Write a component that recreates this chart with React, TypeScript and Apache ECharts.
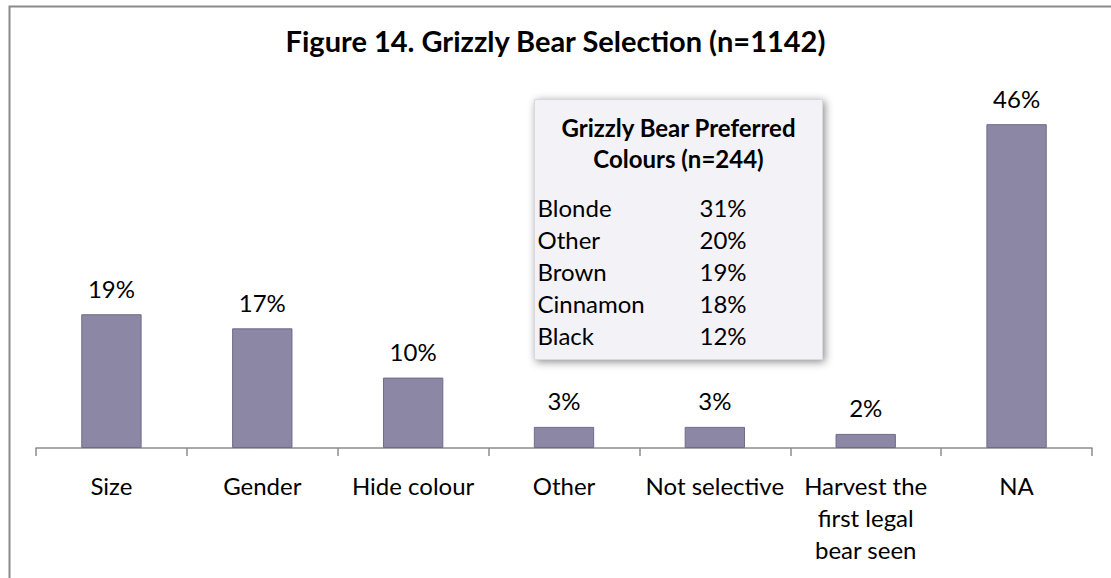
import React, { useEffect, useRef } from "react";
import * as echarts from "echarts";

const categories = ["Size", "Gender", "Hide colour", "Other", "Not selective", "Harvest the\nfirst legal\nbear seen", "NA"];
const values = [19, 17, 10, 3, 3, 2, 46];
const insetTitleLines = ["Grizzly Bear Preferred", "Colours (n=244)"];
const colourNames = ["Blonde", "Other", "Brown", "Cinnamon", "Black"];
const colourValues = [31, 20, 19, 18, 12];

const FONT = "Lato, 'Open Sans', sans-serif";

export default function App() {
  const ref = useRef<HTMLDivElement>(null);
  useEffect(() => {
    if (!ref.current) return;
    const chart = echarts.init(ref.current, null, { renderer: "svg" });
    const rowTexts: any[] = [];
    colourNames.forEach((n, i) => {
      rowTexts.push({
        type: "text",
        x: 3,
        y: 108 + i * 32,
        style: { text: n, font: `24px ${FONT}`, fill: "#000", verticalAlign: "middle" },
      });
      rowTexts.push({
        type: "text",
        x: 165,
        y: 108 + i * 32,
        style: { text: colourValues[i] + "%", font: `24px ${FONT}`, fill: "#000", verticalAlign: "middle" },
      });
    });
    const titleTexts = insetTitleLines.map((t, i) => ({
      type: "text",
      x: 144,
      y: 28 + i * 31,
      style: { text: t, font: `bold 24px ${FONT}`, fill: "#000", align: "center", verticalAlign: "middle" },
    }));
    chart.setOption({
      animation: false,
      backgroundColor: "#fff",
      title: {
        text: "Figure 14. Grizzly Bear Selection (n=1142)",
        left: "center",
        top: 21,
        textStyle: { fontFamily: FONT, fontWeight: "bold", fontSize: 29, color: "#000" },
      },
      grid: { left: 36, right: 19, top: 96, bottom: 130 },
      xAxis: {
        type: "category",
        data: categories,
        axisLine: { lineStyle: { color: "#8c8c8c", width: 1.5 } },
        axisTick: { show: true, length: 8, lineStyle: { color: "#8c8c8c", width: 1.5 } },
        axisLabel: {
          interval: 0,
          margin: 21,
          color: "#000",
          fontFamily: FONT,
          fontSize: 24,
          lineHeight: 32,
        },
      },
      yAxis: { type: "value", min: 0, max: 50, show: false, splitLine: { show: false } },
      series: [
        {
          type: "bar",
          data: values,
          barWidth: "40%",
          itemStyle: { color: "#8B87A5", borderColor: "#6F6B8A", borderWidth: 1 },
          label: {
            show: true,
            position: "top",
            distance: 14,
            formatter: (p: any) => p.value + "%",
            color: "#000",
            fontFamily: FONT,
            fontSize: 24,
          },
        },
      ],
      graphic: [
        {
          type: "rect",
          left: 7,
          top: 4,
          shape: { width: 1300, height: 800 },
          style: { fill: "none", stroke: "#8a8a8a", lineWidth: 2 },
          silent: true,
        },
        {
          type: "group",
          left: 534,
          top: 99,
          children: [
            {
              type: "rect",
              shape: { x: 0, y: 0, width: 288, height: 260 },
              style: {
                fill: "#F2F2F7",
                stroke: "#d8d8de",
                lineWidth: 1,
                shadowBlur: 8,
                shadowColor: "rgba(0,0,0,0.45)",
                shadowOffsetX: 2,
                shadowOffsetY: 2,
              },
            },
            ...titleTexts,
            ...rowTexts,
          ],
        },
      ],
    });
    return () => chart.dispose();
  }, []);
  return <div ref={ref} style={{ position: "fixed", left: 0, top: 0, width: 1111, height: 578 }} />;
}
